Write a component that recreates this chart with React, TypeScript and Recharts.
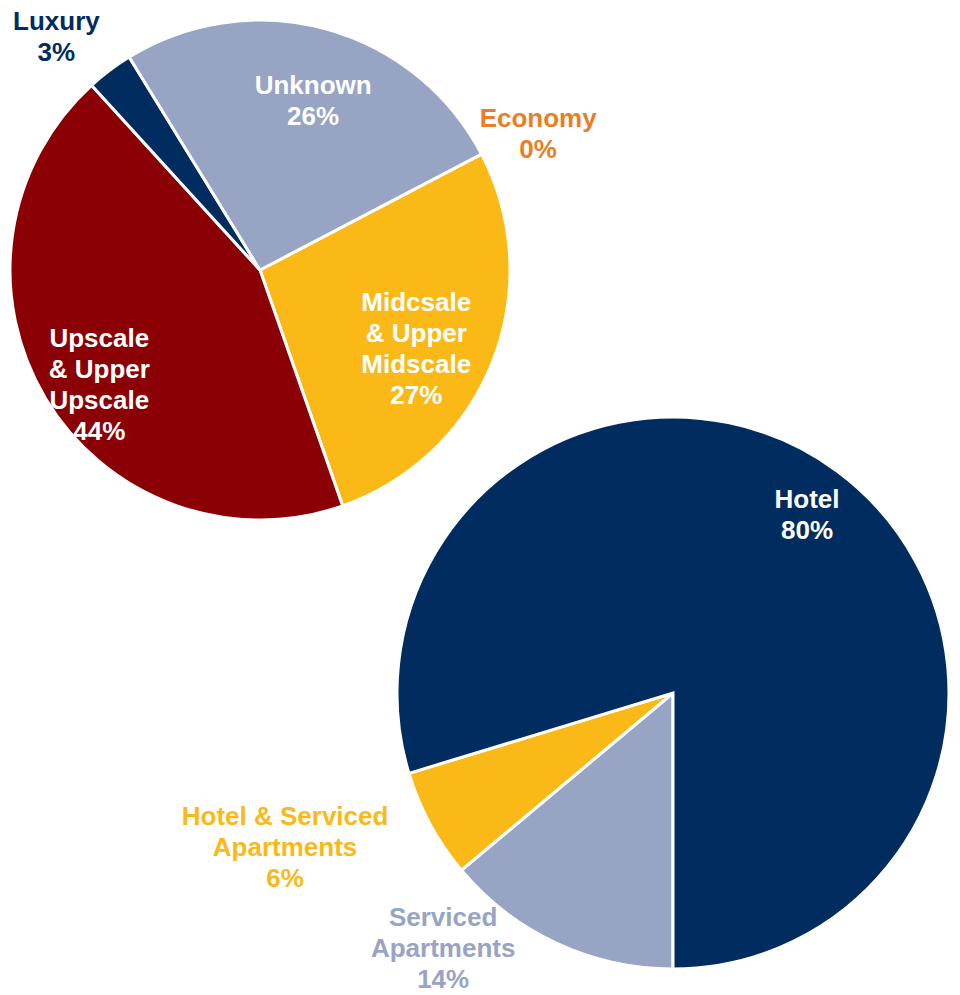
import { PieChart, Pie, Cell } from 'recharts';

// Hotel class split (top pie), clockwise from the Economy edge
const classNames = ['Economy', 'Midscale & Upper Midscale', 'Upscale & Upper Upscale', 'Luxury', 'Unknown'];
const classShares = [0, 27.3, 43.6, 3.0, 26.1];
const classLabelLines = [['Economy'], ['Midcsale', '& Upper', 'Midscale'], ['Upscale', '& Upper', 'Upscale'], ['Luxury'], ['Unknown']];

// Property type split (bottom pie), clockwise from 6 o'clock
const typeNames = ['Serviced Apartments', 'Hotel & Serviced Apartments', 'Hotel'];
const typeShares = [13.9, 6.4, 79.7];
const typeLabelLines = [['Serviced', 'Apartments'], ['Hotel & Serviced', 'Apartments'], ['Hotel']];

const NAVY = '#002C5F';
const RED = '#8B0004';
const GOLD = '#FBB918';
const LAVENDER = '#97A4C4';
const ORANGE = '#E97E23';

const classColors = [ORANGE, GOLD, RED, NAVY, LAVENDER];
const classTextColors = [ORANGE, '#fff', '#fff', NAVY, '#fff'];
// label placement: radius as fraction of outerRadius, angle shift from the slice middle
const classLabelPlace = [
  { r: 1.24, da: -1.4 },
  { r: 0.7, da: -5.2 },
  { r: 0.79, da: 4.7 },
  { r: 1.24, da: 4.1 },
  { r: 0.71, da: -2 },
];

const typeColors = [LAVENDER, GOLD, NAVY];
const typeTextColors = [LAVENDER, GOLD, '#fff'];
const typeLabelPlace = [
  { r: 1.244, da: -17 },
  { r: 1.512, da: -6.8 },
  { r: 0.81, da: -0.3 },
];

const LINE_H = 31;

function makeLabel(lines: string[][], place: { r: number; da: number }[], colors: string[]) {
  return (props: any) => {
    const { cx, cy, midAngle, outerRadius, index, percent } = props;
    const p = place[index];
    const a = ((midAngle + p.da) * Math.PI) / 180;
    const x = cx + outerRadius * p.r * Math.cos(a);
    const y = cy - outerRadius * p.r * Math.sin(a);
    const all = [...lines[index], `${Math.round(percent * 100)}%`];
    return (
      <text
        x={x}
        y={y}
        textAnchor="middle"
        dominantBaseline="central"
        fill={colors[index]}
        fontSize={26}
        fontWeight="bold"
        fontFamily="'Liberation Sans', Arial, sans-serif"
      >
        {all.map((t, i) => (
          <tspan key={i} x={x} y={y + (i - (all.length - 1) / 2) * LINE_H} dominantBaseline="central">
            {t}
          </tspan>
        ))}
      </text>
    );
  };
}

export default function App() {
  const classData = classNames.map((name, i) => ({ name, value: classShares[i] }));
  const typeData = typeNames.map((name, i) => ({ name, value: typeShares[i] }));

  return (
    <div style={{ position: 'absolute', left: 0, top: 0, width: 960, height: 995, background: '#fff' }}>
      <PieChart width={960} height={995}>
        <Pie
          data={classData}
          dataKey="value"
          nameKey="name"
          cx={255}
          cy={265}
          outerRadius={250}
          startAngle={27.6}
          endAngle={27.6 - 360}
          stroke="#fff"
          strokeWidth={3}
          labelLine={false}
          label={makeLabel(classLabelLines, classLabelPlace, classTextColors)}
          isAnimationActive={false}
        >
          {classData.map((d, i) => (
            <Cell key={d.name} fill={classColors[i]} />
          ))}
        </Pie>
        <Pie
          data={typeData}
          dataKey="value"
          nameKey="name"
          cx={668}
          cy={688}
          outerRadius={276}
          startAngle={270}
          endAngle={-90}
          stroke="#fff"
          strokeWidth={3}
          labelLine={false}
          label={makeLabel(typeLabelLines, typeLabelPlace, typeTextColors)}
          isAnimationActive={false}
        >
          {typeData.map((d, i) => (
            <Cell key={d.name} fill={typeColors[i]} />
          ))}
        </Pie>
      </PieChart>
    </div>
  );
}
